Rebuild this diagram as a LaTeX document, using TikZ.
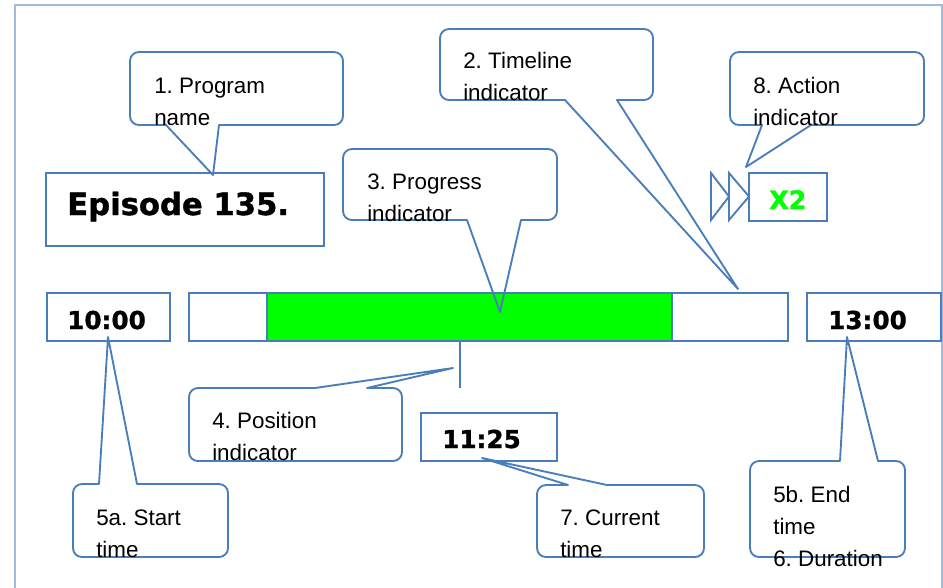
\documentclass[tikz,border=0pt]{standalone}
\usepackage{fontspec}
\setmainfont{Liberation Sans}
\newfontfamily\dvs{DejaVu Sans}[BoldFeatures={FakeBold=1.2}]
\definecolor{ln}{RGB}{74,126,187}
\definecolor{frm}{RGB}{160,188,218}
\definecolor{grn}{RGB}{0,255,0}
\frenchspacing
% bubble with pointer on bottom edge: x1 y1 x2 y2 lb rb tipx tipy
\newcommand{\bubbot}[8]{%
  \draw[bub] (#5,#4) -- ({#1+9},#4) .. controls ({#1+4},#4) and (#1,{#4-4}) .. (#1,{#4-9})
    -- (#1,{#2+9}) .. controls (#1,{#2+4}) and ({#1+4},#2) .. ({#1+9},#2)
    -- ({#3-9},#2) .. controls ({#3-4},#2) and (#3,{#2+4}) .. (#3,{#2+9})
    -- (#3,{#4-9}) .. controls (#3,{#4-4}) and ({#3-4},#4) .. ({#3-9},#4)
    -- (#6,#4) -- (#7,#8) -- cycle;}
% bubble with pointer on top edge
\newcommand{\bubtop}[8]{%
  \draw[bub] (#6,#2) -- ({#3-9},#2) .. controls ({#3-4},#2) and (#3,{#2+4}) .. (#3,{#2+9})
    -- (#3,{#4-9}) .. controls (#3,{#4-4}) and ({#3-4},#4) .. ({#3-9},#4)
    -- ({#1+9},#4) .. controls ({#1+4},#4) and (#1,{#4-4}) .. (#1,{#4-9})
    -- (#1,{#2+9}) .. controls (#1,{#2+4}) and ({#1+4},#2) .. ({#1+9},#2)
    -- (#5,#2) -- (#7,#8) -- cycle;}
\begin{document}
\begin{tikzpicture}[x=0.75pt,y=-0.75pt,
  bub/.style={draw=ln, line width=1.4pt, line join=round},
  tbox/.style={draw=ln, fill=white, line width=1.4pt, inner sep=0pt},
  conn/.style={draw=ln, line width=1.4pt},
  lbl/.style={anchor=base west, inner sep=0pt, align=left, font=\frenchspacing\fontsize{16.8}{24}\selectfont},
  tim/.style={anchor=base west, inner sep=0pt, font=\dvs\bfseries\fontsize{18.5}{22}\selectfont}]
\useasboundingbox (0,0) rectangle (943,587);
\clip (0,0) rectangle (943,587);
% outer frame
\draw[frm, line width=1.4pt] (15,5) rectangle (942,640);
% boxes
\node[tbox, minimum width=208.5pt, minimum height=54.75pt] (ep) at (185,209.5) {};
\node[tbox, minimum width=92.25pt, minimum height=36pt] (t10) at (108.5,317) {};
\node[tbox, minimum width=449.25pt, minimum height=36pt] (bar) at (488.5,317) {};
\node[tbox, fill=grn, minimum width=303.75pt, minimum height=36pt] (prog) at (469.5,317) {};
\node[tbox, minimum width=102pt, minimum height=36pt] (t11) at (489,437) {};
\node[tbox, minimum width=100.5pt, minimum height=36pt] (t13) at (874,317) {};
\node[tbox, minimum width=58.5pt, minimum height=36pt] (x2) at (788,197) {};
% fast-forward triangles
\draw[tbox] (711,173) -- (729,196.5) -- (711,220) -- cycle;
\draw[tbox] (729,173) -- (749,196.5) -- (729,220) -- cycle;
% position indicator line
\coordinate (pl) at (460,388);
\draw[conn] (bar.south -| pl) -- (pl);
% callouts
\bubbot{130}{52}{343}{125}{166}{219}{213}{175}
\bubbot{440}{29}{653}{100}{565}{617}{738}{289}
\bubbot{343}{149}{557}{220}{467}{521}{500}{312}
\bubbot{730}{52}{924}{125}{762}{811}{746}{167}
\bubtop{189}{388}{402}{461}{315}{367}{453}{368}
\bubtop{73}{484}{228}{557}{99}{137}{108}{337}
\bubtop{537}{485}{704}{557}{568}{607}{482}{458}
\bubtop{750}{461}{905}{557}{840}{878}{847}{337}
% texts (anchor = baseline of last line)
\node[tim, font=\dvs\bfseries\fontsize{23}{26}\selectfont] (eptxt) at (67,215) {Episode 135.};
\node[tim] (t10txt) at (67,329) {10:00};
\node[tim] (t11txt) at (442,448) {11:25};
\node[tim] (t13txt) at (828,329) {13:00};
\node[tim, text=grn, font=\dvs\bfseries\fontsize{19}{22}\selectfont] (x2txt) at (769,209) {X2};
\node[lbl] (l1) at (154,125) {1. Program\\name};
\node[lbl] (l2) at (463,100) {2. Timeline\\indicator};
\node[lbl] (l3) at (367,221) {3. Progress\\indicator};
\node[lbl] (l8) at (753,125) {8. Action\\indicator};
\node[lbl] (l4) at (212,460) {4. Position\\indicator};
\node[lbl] (l5a) at (96,557) {5a. Start\\time};
\node[lbl] (l7) at (560,557) {7. Current\\time};
\node[lbl] (l5b) at (773,566) {5b. End\\time\\6. Duration};
\end{tikzpicture}
\end{document}
